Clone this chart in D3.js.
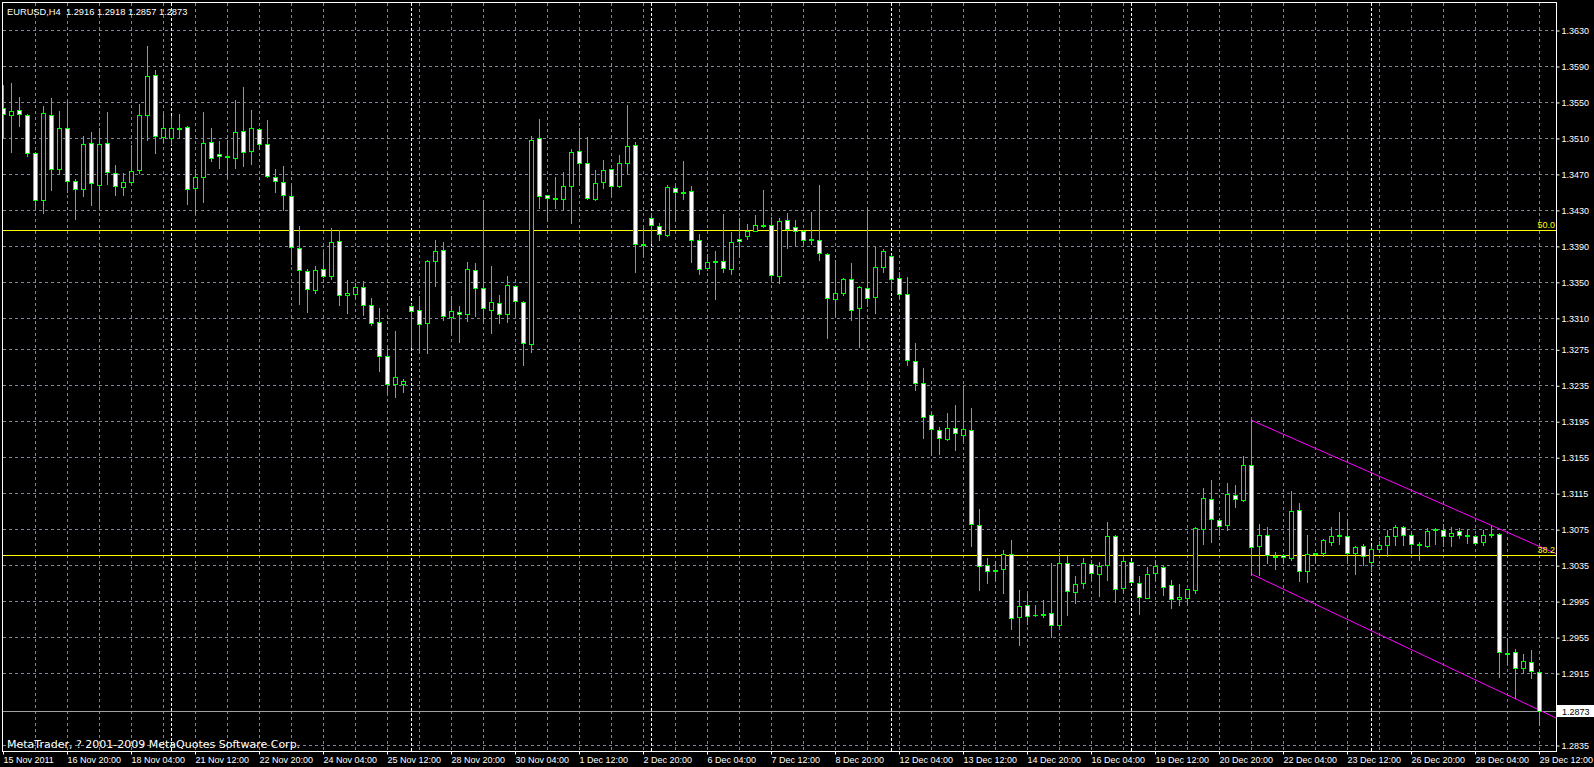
<!DOCTYPE html>
<html><head><meta charset="utf-8">
<script src="https://cdn.jsdelivr.net/npm/d3@7"></script>
<style>
html,body{margin:0;padding:0;background:#000;overflow:hidden;}
svg{display:block;}
text{font-family:"Liberation Sans",Arial,sans-serif;}
</style></head><body>
<svg id="c" width="1594" height="767"></svg>
<script>
// ---------- data ----------
const titleText = "EURUSD,H4  1.2916 1.2918 1.2857 1.2873";
const copyrightText = "MetaTrader, ? 2001-2009 MetaQuotes Software Corp.";

const openVals = [1.3543,1.3535,1.3541,1.3536,1.3493,1.3441,1.3536,1.3475,1.3521,1.3462,1.3453,1.3504,1.3458,1.3504,1.3471,1.3455,1.3461,1.3474,1.3536,1.3580,1.3511,1.3510,1.3520,1.3522,1.3454,1.3466,1.3505,1.3492,1.3489,1.3488,1.3518,1.3495,1.3520,1.3503,1.3467,1.3461,1.3445,1.3388,1.3362,1.3341,1.3364,1.3357,1.3395,1.3335,1.3337,1.3344,1.3324,1.3305,1.3267,1.3236,1.3236,1.3323,1.3319,1.3304,1.3373,1.3385,1.3311,1.3317,1.3314,1.3363,1.3343,1.3319,1.3327,1.3314,1.3345,1.3328,1.3281,1.3510,1.3446,1.3443,1.3442,1.3456,1.3495,1.3482,1.3442,1.3461,1.3475,1.3456,1.3482,1.3502,1.3392,1.3421,1.3412,1.3402,1.3454,1.3450,1.3451,1.3396,1.3365,1.3372,1.3373,1.3364,1.3398,1.3401,1.3407,1.3412,1.3413,1.3357,1.3419,1.3411,1.3407,1.3396,1.3397,1.3381,1.3331,1.3338,1.3353,1.3321,1.3343,1.3333,1.3367,1.3379,1.3354,1.3336,1.3262,1.3238,1.3202,1.3185,1.3175,1.3187,1.3180,1.3185,1.3080,1.3035,1.3030,1.3031,1.3047,1.2977,1.2991,1.2980,1.2981,1.2982,1.2968,1.3037,1.3005,1.3015,1.3036,1.3025,1.3035,1.3067,1.3010,1.3039,1.3015,1.2999,1.3026,1.3033,1.3013,1.2997,1.2999,1.3007,1.3075,1.3109,1.3085,1.3080,1.3113,1.3107,1.3146,1.3056,1.3069,1.3045,1.3046,1.3043,1.3096,1.3029,1.3047,1.3048,1.3061,1.3067,1.3067,1.3049,1.3056,1.3039,1.3053,1.3057,1.3067,1.3077,1.3069,1.3057,1.3056,1.3074,1.3074,1.3067,1.3073,1.3068,1.3067,1.3061,1.3068,1.3070,1.2937,1.2938,1.2921,1.2927,1.2916];
const highVals = [1.3569,1.3571,1.3556,1.3537,1.3494,1.3545,1.3554,1.3540,1.3551,1.3464,1.3512,1.3517,1.3521,1.3539,1.3480,1.3471,1.3502,1.3548,1.3612,1.3586,1.3537,1.3534,1.3537,1.3523,1.3475,1.3539,1.3521,1.3507,1.3508,1.3552,1.3567,1.3541,1.3521,1.3530,1.3475,1.3479,1.3457,1.3412,1.3364,1.3368,1.3383,1.3410,1.3408,1.3352,1.3349,1.3351,1.3332,1.3321,1.3276,1.3295,1.3242,1.3325,1.3334,1.3374,1.3397,1.3394,1.3334,1.3323,1.3372,1.3371,1.3441,1.3368,1.3335,1.3356,1.3347,1.3329,1.3512,1.3531,1.3447,1.3466,1.3472,1.3498,1.3521,1.3511,1.3474,1.3486,1.3476,1.3491,1.3547,1.3506,1.3410,1.3427,1.3415,1.3458,1.3456,1.3484,1.3456,1.3403,1.3381,1.3384,1.3425,1.3405,1.3421,1.3414,1.3424,1.3452,1.3422,1.3421,1.3427,1.3419,1.3408,1.3428,1.3458,1.3382,1.3374,1.3354,1.3371,1.3345,1.3433,1.3389,1.3386,1.3380,1.3361,1.3355,1.3282,1.3254,1.3203,1.3189,1.3204,1.3213,1.3235,1.3210,1.3097,1.3043,1.3040,1.3052,1.3063,1.3007,1.3003,1.2991,1.2996,1.3037,1.3048,1.3045,1.3023,1.3043,1.3041,1.3038,1.3083,1.3068,1.3043,1.3040,1.3023,1.3033,1.3041,1.3035,1.3018,1.3014,1.3009,1.3077,1.3121,1.3130,1.3087,1.3126,1.3124,1.3156,1.3196,1.3081,1.3077,1.3050,1.3047,1.3117,1.3104,1.3069,1.3049,1.3064,1.3077,1.3094,1.3083,1.3056,1.3058,1.3056,1.3062,1.3074,1.3080,1.3078,1.3071,1.3061,1.3076,1.3076,1.3081,1.3077,1.3076,1.3074,1.3069,1.3074,1.3078,1.3071,1.2954,1.2942,1.2936,1.2941,1.2918];
const lowVals = [1.3510,1.3494,1.3523,1.3490,1.3431,1.3426,1.3452,1.3470,1.3450,1.3420,1.3445,1.3435,1.3432,1.3459,1.3447,1.3446,1.3460,1.3471,1.3508,1.3493,1.3506,1.3503,1.3510,1.3437,1.3426,1.3439,1.3484,1.3477,1.3465,1.3477,1.3479,1.3481,1.3498,1.3467,1.3450,1.3430,1.3370,1.3325,1.3317,1.3338,1.3355,1.3353,1.3324,1.3315,1.3332,1.3313,1.3302,1.3251,1.3227,1.3222,1.3228,1.3278,1.3272,1.3271,1.3345,1.3308,1.3292,1.3283,1.3306,1.3312,1.3304,1.3293,1.3304,1.3305,1.3312,1.3257,1.3272,1.3432,1.3418,1.3432,1.3430,1.3415,1.3458,1.3442,1.3441,1.3454,1.3445,1.3455,1.3471,1.3361,1.3379,1.3393,1.3397,1.3401,1.3418,1.3442,1.3372,1.3359,1.3363,1.3331,1.3361,1.3359,1.3378,1.3398,1.3406,1.3411,1.3352,1.3349,1.3388,1.3390,1.3392,1.3392,1.3374,1.3287,1.3311,1.3335,1.3308,1.3277,1.3323,1.3315,1.3361,1.3341,1.3332,1.3257,1.3230,1.3176,1.3158,1.3159,1.3174,1.3163,1.3173,1.3056,1.3007,1.3015,1.3018,1.3004,1.2964,1.2946,1.2970,1.2978,1.2977,1.2955,1.2967,1.2980,1.2993,1.3010,1.3018,1.3001,1.3018,1.2994,1.3004,1.3015,1.2981,1.2998,1.3018,1.3002,1.2987,1.2991,1.2993,1.3004,1.3058,1.3061,1.3069,1.3074,1.3100,1.3106,1.3025,1.3024,1.3037,1.3031,1.3037,1.3041,1.3017,1.3016,1.3038,1.3045,1.3057,1.3059,1.3041,1.3025,1.3035,1.3029,1.3050,1.3045,1.3057,1.3057,1.3049,1.3041,1.3055,1.3058,1.3056,1.3056,1.3065,1.3060,1.3059,1.3057,1.3066,1.2911,1.2925,1.2887,1.2915,1.2910,1.2857];
const closeVals = [1.3537,1.3540,1.3537,1.3493,1.3441,1.3538,1.3476,1.3521,1.3462,1.3453,1.3503,1.3460,1.3503,1.3472,1.3456,1.3461,1.3473,1.3536,1.3579,1.3512,1.3521,1.3521,1.3521,1.3453,1.3467,1.3504,1.3488,1.3490,1.3490,1.3517,1.3494,1.3521,1.3503,1.3468,1.3462,1.3446,1.3389,1.3363,1.3342,1.3363,1.3356,1.3394,1.3335,1.3338,1.3344,1.3324,1.3304,1.3268,1.3236,1.3244,1.3240,1.3318,1.3303,1.3373,1.3384,1.3312,1.3318,1.3314,1.3364,1.3343,1.3321,1.3328,1.3314,1.3346,1.3329,1.3282,1.3508,1.3445,1.3443,1.3442,1.3457,1.3494,1.3482,1.3443,1.3460,1.3474,1.3457,1.3482,1.3501,1.3392,1.3391,1.3413,1.3403,1.3455,1.3450,1.3449,1.3397,1.3364,1.3372,1.3373,1.3365,1.3394,1.3395,1.3406,1.3413,1.3413,1.3358,1.3418,1.3409,1.3406,1.3396,1.3398,1.3382,1.3332,1.3338,1.3353,1.3319,1.3344,1.3332,1.3366,1.3384,1.3353,1.3337,1.3263,1.3237,1.3200,1.3186,1.3176,1.3188,1.3182,1.3186,1.3081,1.3034,1.3029,1.3028,1.3047,1.2976,1.2990,1.2978,1.2979,1.2979,1.2968,1.3037,1.3006,1.3014,1.3037,1.3026,1.3034,1.3067,1.3009,1.3040,1.3016,1.3000,1.3025,1.3034,1.3011,1.2997,1.3000,1.3008,1.3076,1.3110,1.3086,1.3079,1.3114,1.3108,1.3146,1.3055,1.3068,1.3046,1.3044,1.3044,1.3095,1.3028,1.3047,1.3048,1.3063,1.3067,1.3068,1.3048,1.3055,1.3045,1.3053,1.3057,1.3067,1.3077,1.3069,1.3059,1.3058,1.3073,1.3075,1.3067,1.3071,1.3069,1.3067,1.3060,1.3068,1.3070,1.2938,1.2936,1.2921,1.2928,1.2917,1.2873];

const priceTicks = [1.3630,1.3590,1.3550,1.3510,1.3470,1.3430,1.3390,1.3350,1.3310,1.3275,1.3235,1.3195,1.3155,1.3115,1.3075,1.3035,1.2995,1.2955,1.2915,1.2835];
const timeLabels = ["15 Nov 2011","16 Nov 20:00","18 Nov 04:00","21 Nov 12:00","22 Nov 20:00","24 Nov 04:00","25 Nov 12:00","28 Nov 20:00","30 Nov 04:00","1 Dec 12:00","2 Dec 20:00","6 Dec 04:00","7 Dec 12:00","8 Dec 20:00","12 Dec 04:00","13 Dec 12:00","14 Dec 20:00","16 Dec 04:00","19 Dec 12:00","20 Dec 20:00","22 Dec 04:00","23 Dec 12:00","26 Dec 20:00","28 Dec 04:00","29 Dec 12:00"];
const weekStartBars = [21,51,81,111,141,171];
const fibLabels = ["50.0","38.2"];
const fibPrices = [1.3408,1.3046];
const channelUpper = [[156,1.3196],[192,1.3056]];
const channelLower = [[156,1.3025],[192,1.2874]];
const lastPrice = 1.2873;

// ---------- layout ----------
const W = 1594, H = 767;
const L = 2, T = 2, R = 1556, B = 751;
const nBars = openVals.length;

const svg = d3.select("#c");
svg.append("rect").attr("width",W).attr("height",H).attr("fill","#000");

const x = d3.scaleLinear().domain([0, nBars-1]).range([3, 3 + 8*(nBars-1)]);
const y = d3.scaleLinear().domain([1.2835, 1.3630]).range([745, 30]);
const px = v => Math.round(x(v));
const py = v => Math.round(y(v));

svg.append("clipPath").attr("id","plot").append("rect")
  .attr("x",L+1).attr("y",T+1).attr("width",R-L-1).attr("height",B-T-1);
const g = svg.append("g").attr("clip-path","url(#plot)");

const gridCol = "#778899";
// horizontal grid
g.selectAll("line.hg").data(priceTicks).join("line")
  .attr("x1",L+1).attr("x2",R).attr("y1",d=>py(d)+0.5).attr("y2",d=>py(d)+0.5)
  .attr("stroke",gridCol).attr("stroke-dasharray","3,3");
// vertical grid every 4 bars
const vg = d3.range(4, nBars, 4);
g.selectAll("line.vg").data(vg).join("line")
  .attr("x1",d=>px(d)+0.5).attr("x2",d=>px(d)+0.5).attr("y1",T+1).attr("y2",B)
  .attr("stroke",gridCol).attr("stroke-dasharray","3,3");
// week separators
g.selectAll("line.ws").data(weekStartBars).join("line")
  .attr("x1",d=>px(d)+0.5).attr("x2",d=>px(d)+0.5).attr("y1",T+1).attr("y2",B)
  .attr("stroke","#fff").attr("stroke-dasharray","3,2");

// copyright
g.append("text").attr("x",7).attr("y",748).attr("fill","#fff")
  .style("font-family","'DejaVu Sans',sans-serif").style("font-size","11px")
  .text(copyrightText);

// fib levels
fibPrices.forEach((p,i)=>{
  g.append("line").attr("x1",L+1).attr("x2",R).attr("y1",py(p)+0.5).attr("y2",py(p)+0.5)
    .attr("stroke","#ffff00");
});
// current price line
g.append("line").attr("x1",L+1).attr("x2",R).attr("y1",py(lastPrice)+0.5).attr("y2",py(lastPrice)+0.5)
  .attr("stroke","#a0a0a0");

// channel lines (rays to right edge)
[channelUpper, channelLower].forEach(pts=>{
  const x1 = x(pts[0][0]), y1 = y(pts[0][1]), x2 = x(pts[1][0]), y2 = y(pts[1][1]);
  const xe = R, ye = y1 + (y2-y1)*(xe-x1)/(x2-x1);
  g.append("line").attr("x1",x1+0.5).attr("y1",y1).attr("x2",xe).attr("y2",ye)
    .attr("stroke","#ff00ff").attr("stroke-width",1);
});

// candles
const green = "#00ff00";
const bars = d3.range(nBars).map(i=>({i,o:openVals[i],h:highVals[i],l:lowVals[i],c:closeVals[i]}));
const cg = g.append("g");
bars.forEach(d=>{
  const cx = px(d.i);
  cg.append("line").attr("x1",cx+0.5).attr("x2",cx+0.5)
    .attr("y1",py(d.h)).attr("y2",py(d.l)+1).attr("stroke",green);
  const yt = py(Math.max(d.o,d.c)), yb = py(Math.min(d.o,d.c));
  if (yb - yt < 1) {
    cg.append("line").attr("x1",cx-2).attr("x2",cx+3).attr("y1",yt+0.5).attr("y2",yt+0.5).attr("stroke",green);
  } else {
    cg.append("rect").attr("x",cx-1.5).attr("y",yt+0.5).attr("width",4).attr("height",yb-yt)
      .attr("fill", d.c > d.o ? "#000" : "#fff").attr("stroke",green);
  }
});

// fib labels (on top)
fibPrices.forEach((p,i)=>{
  g.append("text").attr("x",R-1).attr("y",py(p)-2).attr("text-anchor","end")
    .attr("fill","#ffff00").style("font-size","9px").text(fibLabels[i]);
});

// title
svg.append("text").attr("x",7).attr("y",15).attr("fill","#fff").style("font-size","9.3px")
  .attr("xml:space","preserve").style("white-space","pre").text(titleText);

// frame
svg.append("rect").attr("x",L+0.5).attr("y",T+0.5).attr("width",R-L).attr("height",B-T)
  .attr("fill","none").attr("stroke","#fff");

// price axis
const yAxis = d3.axisRight(y).tickValues(priceTicks).tickFormat(d3.format(".4f")).tickSize(3).tickPadding(2);
const ya = svg.append("g").attr("transform",`translate(${R+0.5},0.5)`).call(yAxis);
ya.select(".domain").remove();
ya.selectAll("line").attr("stroke","#fff");
ya.selectAll("text").attr("fill","#fff").style("font-size","9px").style("font-family","'Liberation Sans',Arial,sans-serif");

// time axis
const tickBars = timeLabels.map((t,i)=>i*8);
const xAxis = d3.axisBottom(x).tickValues(tickBars).tickFormat((d,i)=>timeLabels[i]).tickSize(3).tickPadding(2);
const xa = svg.append("g").attr("transform",`translate(0.5,${B+0.5})`).call(xAxis);
xa.select(".domain").remove();
xa.selectAll(".tick").attr("transform",d=>`translate(${px(d)},0)`);
xa.selectAll("line").attr("stroke","#fff");
xa.selectAll("text").attr("fill","#fff").attr("text-anchor","start").attr("x",0)
  .style("font-size","9px").style("font-family","'Liberation Sans',Arial,sans-serif");

// last price label
const lp = py(lastPrice);
svg.append("rect").attr("x",R+1).attr("y",lp-6).attr("width",W-R-1).attr("height",12).attr("fill","#fff");
svg.append("text").attr("x",R+6).attr("y",lp+3.5).attr("fill","#000").style("font-size","9px")
  .text(d3.format(".4f")(lastPrice));
</script>
</body></html>
